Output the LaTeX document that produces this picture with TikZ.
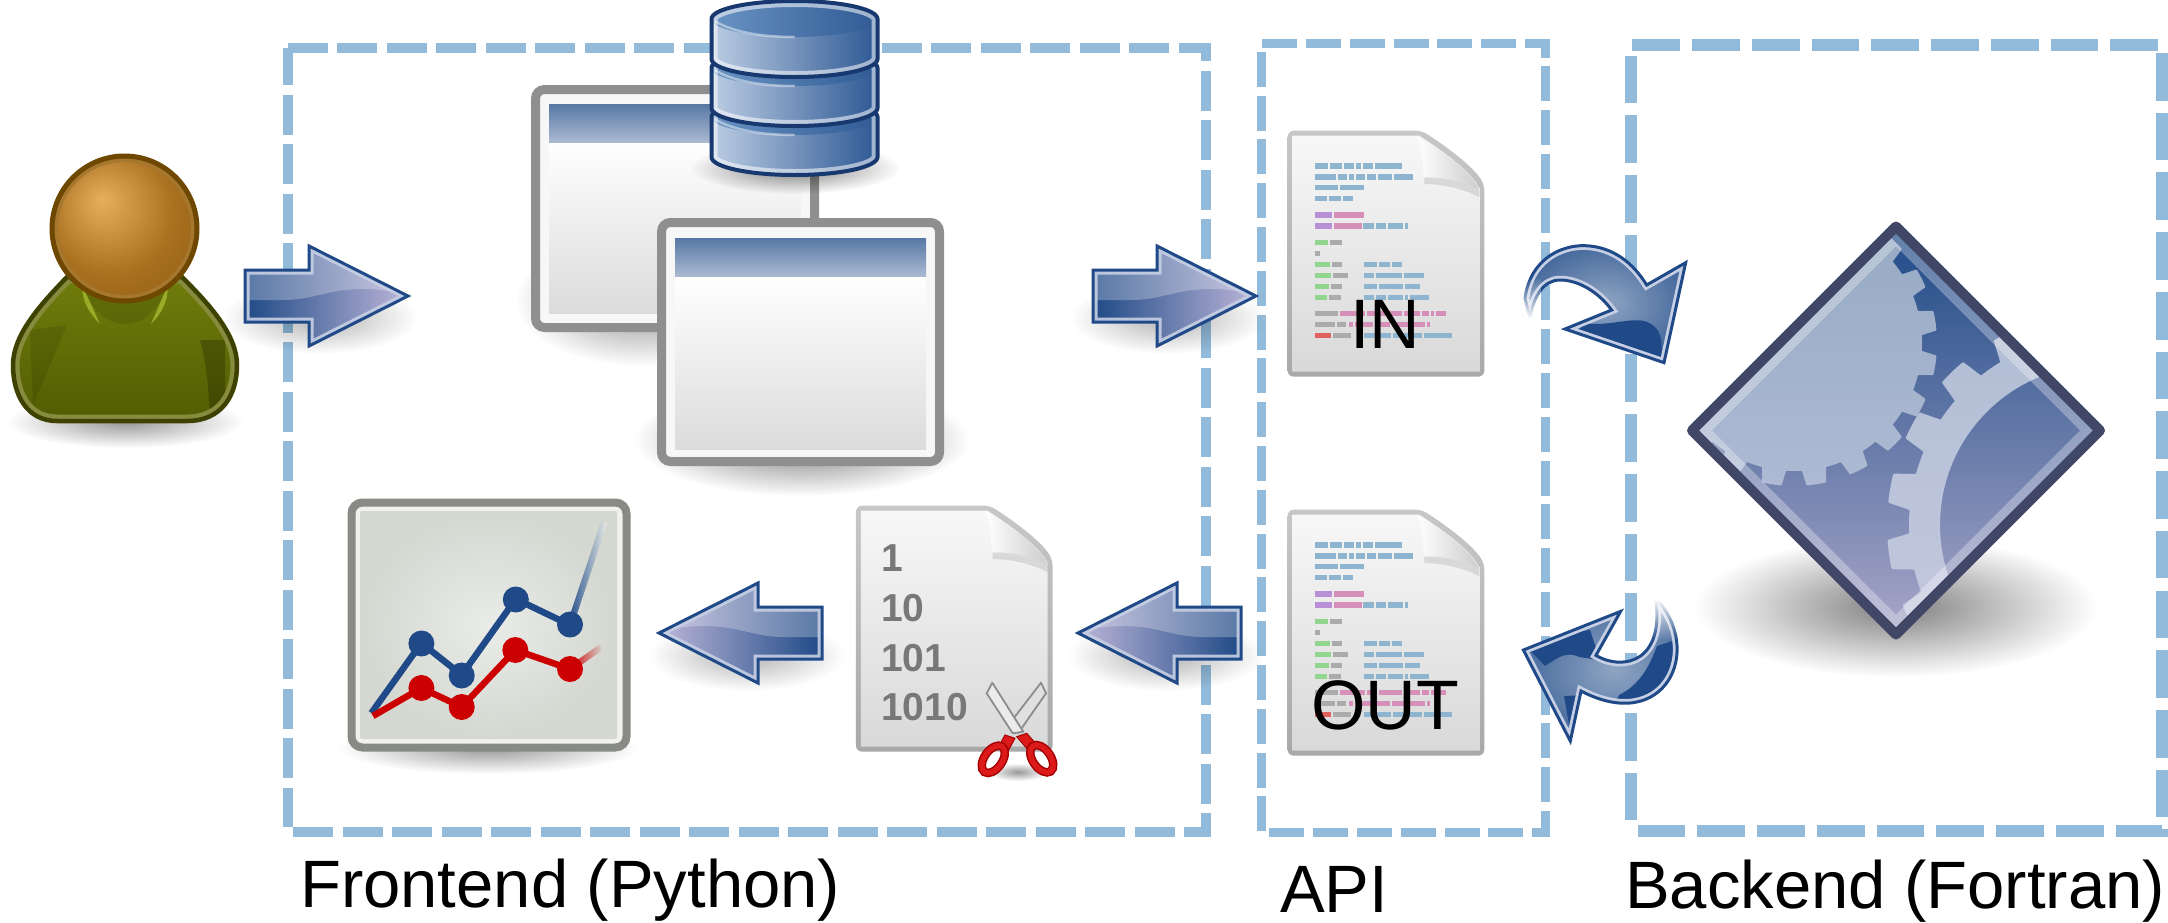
\documentclass[tikz,border=0pt]{standalone}
\usepackage{fontspec}
\setmainfont{Liberation Sans}
\usetikzlibrary{fadings}
\definecolor{dashblue}{HTML}{92BBDB}
\definecolor{adark}{HTML}{1F4A87}
\definecolor{alight}{HTML}{C6CFE4}
\definecolor{alav}{HTML}{BDB6D8}
\definecolor{winborder}{HTML}{8F8F8F}
\definecolor{cb}{HTML}{8FB4CF}
\definecolor{cp}{HTML}{B98FD6}
\definecolor{cr}{HTML}{D68FB8}
\definecolor{cg}{HTML}{90D68F}
\definecolor{cy}{HTML}{ABABAB}
\definecolor{cd}{HTML}{E06060}
\definecolor{diamondedge}{HTML}{414766}
\definecolor{bodytop}{HTML}{6F7D0B}
\definecolor{bodybot}{HTML}{525C02}
\definecolor{bodyedge}{HTML}{3D4200}
\definecolor{bodyrim}{HTML}{858C3E}
\definecolor{collar}{HTML}{9AAB2A}
\definecolor{headedge}{HTML}{6E4700}
\definecolor{headrim}{HTML}{A5772F}
\definecolor{headlite}{HTML}{E7AE5D}
\definecolor{headmid}{HTML}{A8701F}
\definecolor{headdark}{HTML}{935E14}
\definecolor{chartframe}{HTML}{888A85}
\definecolor{chartpale}{HTML}{F0F1EE}
\definecolor{chartin}{HTML}{E9ECE7}
\definecolor{chartout}{HTML}{D5D8D1}
\definecolor{chartred}{HTML}{CC0000}
\definecolor{dbstroke}{HTML}{17396F}
\definecolor{dbleft}{HTML}{BCCDE3}
\definecolor{dbright}{HTML}{2D5894}
\definecolor{dbtopl}{HTML}{6A94C4}
\definecolor{dbtopr}{HTML}{2F5A94}
\definecolor{geartop}{HTML}{94A8C2}
\definecolor{gearbot}{HTML}{AEBAD4}
\definecolor{ringtop}{HTML}{B0BDD4}
\definecolor{ringbot}{HTML}{CACDE2}
\definecolor{basemid}{HTML}{66789F}
\definecolor{basebot}{HTML}{A8A6C8}
\definecolor{scisedge}{HTML}{A40000}
\definecolor{scisred}{HTML}{DC1A1A}
\tikzfading[name=softblob,inner color=transparent!0,outer color=transparent!100]
\tikzfading[name=fadetop,top color=transparent!0,bottom color=transparent!100]
\tikzfading[name=fadebottom,top color=transparent!100,bottom color=transparent!0]
\pgfdeclareradialshading{headsh}{\pgfpoint{-8bp}{10bp}}{color(0bp)=(headlite);color(22bp)=(headmid);color(40bp)=(headdark);color(60bp)=(headdark)}
\pgfmathdeclarefunction{gearprof}{1}{\pgfmathparse{max(0,min(1,(0.3-min(mod(#1+3600,18)/18,1-mod(#1+3600,18)/18))/0.08))}}
\newcommand{\softshadow}[5]{\fill[black,opacity=#5,path fading=softblob] (#1,#2) ellipse (#3 and #4);}
\def\flatshape{(0,0) -- (-99,-50) -- (-99,-26) -- (-163,-26) -- (-163,26) -- (-99,26) -- (-99,50) -- cycle}
\newcommand{\flatarrow}[5]{%
 \begin{scope}[shift={(#1,#2)},xscale=#3]
  \softshadow{-88}{22}{98}{36}{0.3}
  \shade[left color=#4,right color=#5] \flatshape;
  \begin{scope}
   \clip \flatshape;
   \fill[white,opacity=0.26] (-170,4) -- (-125,4) .. controls (-95,4) and (-80,-7) .. (-45,-7) .. controls (-25,-7) and (-10,-4) .. (5,0) -- (5,-60) -- (-170,-60) -- cycle;
   \draw[alight,opacity=0.9,line width=9,line join=miter] \flatshape;
  \end{scope}
  \draw[adark,line width=3,line join=miter] \flatshape;
 \end{scope}}
\newcommand{\window}[8]{%
 \draw[winborder,line width=9,rounded corners=9,fill=white!97!black] (#1+4.5,#2+4.5) rectangle (#3-4.5,#4-4.5);
 \shade[top color=white,bottom color=white!86!black] (#5,#8) rectangle (#6,\contentbottom);
 \shade[top color=white!25!adark,bottom color=white!62!adark] (#5,#7) rectangle (#6,#8);}
\def\docouter{(143,62) -- (545,62) .. controls (620,110) and (700,170) .. (733,225) -- (733,800) -- (143,800) -- cycle}
\def\docinner{(158,77) -- (538,77) .. controls (610,125) and (690,180) .. (718,235) -- (718,785) -- (158,785) -- cycle}
\newcommand{\docpage}[2]{%
 \begin{scope}[shift={(#1,#2)},scale=1/3]
  \shade[top color=white!78!black,bottom color=white!66!black,rounded corners=6] \docouter;
  \shade[top color=white!97!black,bottom color=white!85!black] \docinner;
  \fill[black,opacity=0.10] (553,202) .. controls (610,200) and (680,215) .. (718,240) -- (718,262) .. controls (680,240) and (610,222) .. (553,222) -- cycle;
  \shade[left color=white,right color=white!80!black]
    (530,78) .. controls (548,110) and (545,160) .. (553,202) .. controls (610,200) and (680,215) .. (718,240) .. controls (690,180) and (610,125) .. (530,78) -- cycle;
 \end{scope}}
\newcommand{\coderows}[2]{%
 \begin{scope}[shift={(#1,#2)},scale=1/3]
 \foreach \yy/\col/\xa/\xb in {168/cb/225/264,168/cb/269/306,168/cb/311/343,168/cb/348/363,168/cb/368/400,168/cb/405/487,
  201/cb/225/287,201/cb/293/322,201/cb/328/342,201/cb/348/375,201/cb/381/408,201/cb/414/457,201/cb/463/520,
  233/cb/225/294,233/cb/299/372,
  266/cb/225/262,266/cb/268/303,266/cb/308/339,
  315/cp/225/275,315/cr/281/372,
  348/cp/225/275,348/cr/281/365,348/cb/370/402,348/cb/408/438,348/cb/444/490,348/cb/495/503,
  397/cg/225/264,397/cy/270/306,
  430/cy/225/241,
  463/cg/225/270,463/cy/276/306,463/cb/372/411,463/cb/416/451,463/cb/456/487,
  496/cg/225/273,496/cy/279/323,496/cb/372/402,496/cb/408/487,496/cb/492/552,
  529/cg/225/267,529/cy/273/306,529/cb/372/412,529/cb/418/488,529/cb/494/541,
  563/cg/225/261,563/cy/267/302,563/cb/372/403,563/cb/408/438,563/cb/444/490,563/cb/495/503,563/cb/510/567,
  611/cy/225/295,611/cr/301/375,611/cr/381/412,611/cr/418/487,611/cr/493/541,611/cr/547/567,611/cr/573/581,611/cr/587/617,
  644/cy/225/285,644/cy/291/319,644/cr/326/338,644/cr/345/400,644/cr/408/449,644/cr/455/555,644/cr/561/569,
  677/cd/225/274,677/cy/280/334,677/cb/372/453,677/cb/459/546,677/cb/552/635}
  {\fill[\col] (\xa,\yy-8) rectangle (\xb,\yy+8);}
 \end{scope}}
\def\cylbody{(-83,0) -- (-83,40) .. controls (-83,50) and (-46,58) .. (0,58) .. controls (46,58) and (83,50) .. (83,40) -- (83,0) .. controls (83,-10) and (46,-18) .. (0,-18) .. controls (-46,-18) and (-83,-10) .. (-83,0) -- cycle}
\newcommand{\dbcyl}[1]{%
 \begin{scope}[shift={(794.5,#1)}]
  \shade[left color=dbleft,right color=dbright] \cylbody;
  \shade[left color=dbtopl,right color=dbtopr] (0,0) ellipse (83 and 18);
  \begin{scope}
   \clip \cylbody;
   \draw[white,opacity=0.55,line width=12] \cylbody;
   \draw[white,opacity=0.45,line width=2.5] (-80,2) .. controls (-60,14) and (-30,18) .. (0,18);
  \end{scope}
  \draw[dbstroke,line width=4] \cylbody;
 \end{scope}}
\newcommand{\scisring}[3]{%
 \begin{scope}[shift={(#1,#2)},rotate=#3]
  \draw[scisedge,line width=8.5] (0,0) ellipse (15.5 and 9);
  \draw[scisred,line width=5.5] (0,0) ellipse (15.5 and 9);
 \end{scope}}
\begin{document}
\begin{tikzpicture}[x=1pt,y=-1pt,line join=miter]
\useasboundingbox (0,0) rectangle (2168,922);
% ---------- dashed boxes
\draw[dashblue,line width=10,dash pattern=on 40pt off 9.5pt] (293.3,831.7) -- (1205.7,831.7) -- (1205.7,48.3) -- (288,48.3);
\draw[dashblue,line width=10,dash pattern=on 40pt off 9.5pt,dash phase=3pt] (288,48.3) -- (288,827);
\draw[dashblue,line width=8.7,dash pattern=on 35pt off 8.8pt] (1269.3,832.3) -- (1545.7,832.3) -- (1545.7,43.3) -- (1261.7,43.3) -- (1261.7,831);
\draw[dashblue,line width=12,dash pattern=on 47.7pt off 12.04pt] (1637.7,830.8) -- (2162,830.8) -- (2162,44.8) -- (1631.3,44.8) -- (1631.3,825);
% ---------- user
\softshadow{125}{422}{118}{26}{0.4}
\def\bodyshape{(67,277) .. controls (40,305) and (13,335) .. (13,365) .. controls (13,395) and (27,421) .. (57,421) -- (187,421) .. controls (222,421) and (237,395) .. (237,365) .. controls (237,335) and (210,305) .. (182,277) -- cycle}
\shade[top color=bodytop,bottom color=bodybot] \bodyshape;
\begin{scope}
 \clip \bodyshape;
 \fill[black,opacity=0.10] (67,325) -- (33,405) -- (30,330) -- cycle;
 \fill[black,opacity=0.22] (200,340) .. controls (208,370) and (208,390) .. (210,410) -- (225,400) -- (225,340) -- cycle;
 \draw[bodyrim,line width=13] \bodyshape;
\end{scope}
\draw[bodyedge,line width=4.5] \bodyshape;
\fill[black,opacity=0.10] (85,290) .. controls (100,335) and (150,335) .. (165,290) -- cycle;
\fill[collar] (82,285) -- (100,324) .. controls (88,312) and (82,300) .. (82,285) -- cycle;
\fill[collar] (168,285) -- (151,324) .. controls (163,312) and (168,300) .. (168,285) -- cycle;
\shade[shading=headsh] (124.5,228.5) circle (73);
\draw[headrim,line width=4] (124.5,228.5) circle (68.5);
\draw[headedge,line width=5] (124.5,228.5) circle (72.5);
% ---------- arrow 1
\flatarrow{408}{296}{1}{adark}{alav}
% ---------- windows
\softshadow{640}{300}{125}{66}{0.45}
\softshadow{802}{440}{168}{56}{0.55}
\def\contentbottom{313}
\window{531}{85}{819}{332}{549}{801}{104}{142}
\draw[winborder,line width=9] (814.5,170) -- (814.5,224);
\def\contentbottom{449}
\window{657}{218}{944}{466}{675}{926}{238}{276}
% ---------- database
\softshadow{795}{168}{105}{26}{0.5}
\dbcyl{117}
\dbcyl{68}
\dbcyl{19}
% ---------- arrow 2
\flatarrow{1256}{296}{1}{adark}{alav}
% ---------- left arrows
\flatarrow{659}{633}{-1}{alav}{adark}
\flatarrow{1078}{633}{-1}{alav}{adark}
% ---------- chart
\softshadow{488}{748}{150}{26}{0.4}
\draw[chartframe,line width=8,rounded corners=11,fill=chartpale] (351.5,502.5) rectangle (626.5,747.5);
\shade[inner color=chartin,outer color=chartout,rounded corners=2] (360,511) rectangle (617,739);
\begin{scope}[shift={(570,625)},rotate=71.6]
 \shade[left color=adark,right color=chartin] (0,-3.2) rectangle (108,3.2);
\end{scope}
\draw[adark,line width=6.5] (371.4,713) -- (421.4,643) -- (461.7,675) -- (515.8,599) -- (570,625);
\begin{scope}[shift={(570,669)},rotate=35]
 \shade[left color=chartred,right color=chartout] (0,-3.2) rectangle (38,3.2);
\end{scope}
\draw[chartred,line width=6.5] (373,716) -- (421.4,688) -- (461.7,707) -- (515.3,650) -- (570,669);
\foreach \dx/\dy in {421.4/643.5,461.7/675.5,515.8/599.5,570/624.5}{\fill[adark] (\dx,\dy) circle (13);}
\foreach \dx/\dy in {421.4/688,461.7/707,515.3/650,570/669}{\fill[chartred] (\dx,\dy) circle (13);}
% ---------- documents
\docpage{808.3}{485}
\foreach \nn/\bl/\tx in {bina/571.7/1,binb/621.7/10,binc/671/101,bind/720.7/1010}{
 \node[anchor=base west,inner sep=0pt,text=white!47!black,font=\fontsize{39}{39}\selectfont\bfseries] (\nn) at (881,\bl) {\tx};}
% scissors
\softshadow{1018}{772}{30}{9}{0.4}
\draw[white!55!black,line width=1.8,fill=white!88!black,line join=round] (1041,682.7) -- (1046,693.3) -- (1018.3,733) -- (1010,723) -- cycle;
\draw[white!55!black,line width=1.8,fill=white!92!black,line join=round] (992.3,682.7) -- (986.7,693.3) -- (1012.7,733.3) -- (1023.3,731.7) -- cycle;
\fill[scisred,draw=scisedge,line width=1] (1005,735) -- (1015,738.3) -- (1008,751) -- (999,746) -- cycle;
\fill[scisred,draw=scisedge,line width=1] (1016.7,736.7) -- (1026.7,733.3) -- (1037,745) -- (1029,751) -- cycle;
\scisring{993.3}{759.3}{55}
\scisring{1041.7}{758.7}{-55}
% IN / OUT pages
\docpage{1240}{110}
\coderows{1240}{110}
\docpage{1240}{489}
\coderows{1240}{489}
% ---------- curved arrows
\def\toparrow{(855,565) .. controls (870,450) and (960,405) .. (1035,407) .. controls (1120,410) and (1180,460) .. (1220,525) -- (1337,458) -- (1272,758) -- (975,657) -- (1115,600) .. controls (1070,540) and (1010,510) .. (960,510) .. controls (910,510) and (880,560) .. (870,625) -- cycle}
\begin{scope}[shift={(1240,110)},scale=1/3]
 \shade[inner color=white!50!adark,outer color=white!18!adark] \toparrow;
 \begin{scope}
  \clip \toparrow;
  \fill[adark] (1040,640) .. controls (1110,650) and (1190,615) .. (1230,640) .. controls (1250,650) and (1262,670) .. (1265,700) -- (1265,770) -- (960,700) -- cycle;
  \draw[alight,line width=8.5] \toparrow;
 \end{scope}
 \draw[adark,line width=3] \toparrow;
 \fill[white] (845,625) rectangle (902,680);
 \fill[white,path fading=fadebottom] (845,500) rectangle (902,626);
\end{scope}
\def\botarrow{(1523.4,650) -- (1620.6,611.4) -- (1595.9,655.4) .. controls (1625,672) and (1665,660) .. (1655.5,598) .. controls (1705,650) and (1665,735) .. (1581,691) -- (1570.3,741) -- cycle}
\shade[inner color=white!50!adark,outer color=white!18!adark] \botarrow;
\begin{scope}
 \clip \botarrow;
 \fill[adark] (1657,646) -- (1690,635) -- (1680,682) -- (1611,712) -- (1619,695) .. controls (1640,685) and (1650,665) .. (1657,646) -- cycle;
 \fill[adark] (1590,630) -- (1600,660) -- (1579,657) .. controls (1565,650) and (1555,660) .. (1545,666) -- (1520,640) -- cycle;
 \fill[adark] (1564,696) -- (1590,695) -- (1570,730) -- cycle;
 \draw[alight,line width=8.5] \botarrow;
\end{scope}
\draw[adark,line width=3] \botarrow;
\fill[white] (1645,570) rectangle (1700,600);
\fill[white,path fading=fadetop] (1645,599) rectangle (1700,640);
% ---------- diamond icon
\softshadow{1896}{607}{200}{70}{0.5}
\def\diamondshape{(1896,226.5) -- (2100,430.5) -- (1896,634.5) -- (1692,430.5) -- cycle}
\begin{scope}
 \clip \diamondshape;
 \shade[top color=adark,middle color=basemid,bottom color=basebot] (1692,226) rectangle (2100,635);
 \begin{scope}[shift={(1794,343)}]
  \shade[top color=geartop,bottom color=gearbot] plot[domain=0:360,samples=721] (\x:{128+15*gearprof(\x-9)}) -- cycle;
 \end{scope}
 \begin{scope}[shift={(2100,525)}]
  \shade[even odd rule,top color=ringtop,bottom color=ringbot] plot[domain=0:360,samples=721] (\x:{191+22*gearprof(\x-10)}) -- cycle (0,0) circle (160);
 \end{scope}
 \draw[white,opacity=0.3,line width=28] \diamondshape;
\end{scope}
\draw[diamondedge,line width=10,line join=round] \diamondshape;
% ---------- labels
\node[anchor=base,inner sep=0pt,font=\fontsize{70}{70}\selectfont] (inlabel) at (1385.5,348.3) {IN};
\node[anchor=base,inner sep=0pt,font=\fontsize{70}{70}\selectfont] (outlabel) at (1385,729) {OUT};
\node[anchor=base west,inner sep=0pt,font=\fontsize{67}{67}\selectfont] (front) at (300,907) {Frontend (Python)};
\node[anchor=base west,inner sep=0pt,font=\fontsize{67}{67}\selectfont] (api) at (1280,912) {API};
\node[anchor=base west,inner sep=0pt,font=\fontsize{67}{67}\selectfont] (back) at (1625,908) {Backend (Fortran)};
\end{tikzpicture}
\end{document}
